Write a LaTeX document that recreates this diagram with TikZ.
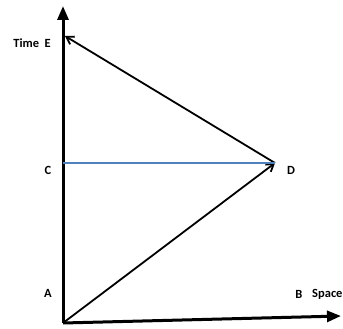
\documentclass[tikz,border=0pt]{standalone}
\usepackage{fontspec}
\setmainfont{Carlito}
\usetikzlibrary{arrows.meta}
\definecolor{lineblue}{RGB}{79,129,189}
\tikzset{
  axis/.style={line width=3pt, -{Triangle[length=14pt,width=11pt]}},
  ray/.style={line width=1.8pt, -{Straight Barb[length=7pt,width=9pt]}},
  lbl/.style={font=\bfseries\fontsize{12.5}{13}\selectfont, inner sep=1pt}
}
\begin{document}
\begin{tikzpicture}[x=1pt,y=-1pt]
    \useasboundingbox (0,0) rectangle (343,329);

    % events
    \coordinate (A) at (63,323);
    \coordinate (B) at (341,316);
    \coordinate (C) at (63,163);
    \coordinate (D) at (275,163);
    \coordinate (E) at (65,36);
    \coordinate (T) at (63,6);

    % axes
    \draw[axis] (A) -- (T);
    \draw[axis] (A) -- (B);

    % light path
    \draw[ray] (A) -- (D);
    \draw[ray] (D) -- (E);

    % simultaneity line
    \draw[lineblue, line width=2.2pt] (C) -- (D);

    \node[lbl, anchor=east] (lblE) at (52,43) {Time\ \ E};
    \node[lbl] (lblC) at (48,170) {C};
    \node[lbl] (lblD) at (291,170) {D};
    \node[lbl] (lblA) at (48,293) {A};
    \node[lbl] (lblB) at (299,294) {B};
    \node[lbl, anchor=west] (lblS) at (311,294) {Space};
\end{tikzpicture}
\end{document}
